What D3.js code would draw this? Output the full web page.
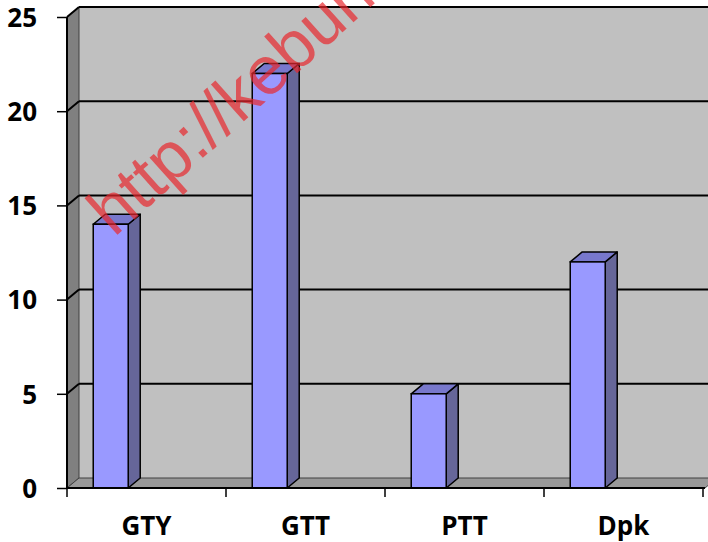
<!DOCTYPE html>
<html>
<head>
<meta charset="utf-8">
<script src="https://cdn.jsdelivr.net/npm/d3@7"></script>
<style>
  body { margin: 0; background: #fff; }
  svg { display: block; }
  .lbl { font-family: "Open Sans", "Liberation Sans", sans-serif; font-weight: bold; font-size: 26px; fill: #000; }
</style>
</head>
<body>
<script>
// data
var categories = ["GTY", "GTT", "PTT", "Dpk"];
var values = [14, 22, 5, 12];
var yTicks = [0, 5, 10, 15, 20, 25];

var W = 708, H = 542;
var dx = 12, dy = -10; // depth offset of the 3d box

var svg = d3.select("body").append("svg")
    .attr("width", W)
    .attr("height", H);

var x = d3.scaleBand().domain(categories).range([67, 703]);
var y = d3.scaleLinear().domain([0, 25]).range([488, 17]);

var x0 = x.range()[0], x1 = x.range()[1] + 2;
var y0 = y(0), yTop = y(25);

// back wall
svg.append("rect")
    .attr("x", x0 + dx).attr("y", yTop + dy)
    .attr("width", x1 - x0 + 20).attr("height", y0 - yTop)
    .attr("fill", "#c0c0c0");

// left side wall
svg.append("polygon")
    .attr("points", [[x0, yTop], [x0 + dx, yTop + dy], [x0 + dx, y0 + dy], [x0, y0]].join(" "))
    .attr("fill", "#808080")
    .attr("stroke", "#404040").attr("stroke-width", 1);

// floor
svg.append("polygon")
    .attr("points", [[x0, y0], [x0 + dx, y0 + dy], [x1 + dx, y0 + dy], [x1, y0]].join(" "))
    .attr("fill", "#999999")
    .attr("stroke", "#404040").attr("stroke-width", 1);

// gridlines (back wall + diagonal on side wall)
var grid = svg.append("g");
yTicks.forEach(function(t) {
    if (t === 0) return;
    grid.append("line")
        .attr("x1", x0 + dx).attr("x2", x1 + dx + 20)
        .attr("y1", y(t) + dy).attr("y2", y(t) + dy)
        .attr("stroke", "#000").attr("stroke-width", 2);
    grid.append("line")
        .attr("x1", x0).attr("x2", x0 + dx)
        .attr("y1", y(t)).attr("y2", y(t) + dy)
        .attr("stroke", "#000").attr("stroke-width", 2);
});

// bars
var bw = x.bandwidth();
var off = bw * 0.165, wid = bw * 0.22;
var bars = svg.append("g").selectAll("g")
    .data(categories.map(function(c, i) { return { c: c, v: values[i] }; }))
    .enter().append("g");

// side face
bars.append("polygon")
    .attr("points", function(d) {
        var r = x(d.c) + off + wid;
        return [[r, y(d.v)], [r + dx, y(d.v) + dy], [r + dx, y0 + dy], [r, y0]].join(" ");
    })
    .attr("fill", "#666699")
    .attr("stroke", "#000").attr("stroke-width", 1.5).attr("stroke-linejoin", "round");

// top face
bars.append("polygon")
    .attr("points", function(d) {
        var l = x(d.c) + off, r = l + wid, t = y(d.v);
        return [[l, t], [l + dx, t + dy], [r + dx, t + dy], [r, t]].join(" ");
    })
    .attr("fill", "#7878cc")
    .attr("stroke", "#000").attr("stroke-width", 1.5).attr("stroke-linejoin", "round");

// front face
bars.append("rect")
    .attr("x", function(d) { return x(d.c) + off; })
    .attr("y", function(d) { return y(d.v); })
    .attr("width", wid)
    .attr("height", function(d) { return y0 - y(d.v); })
    .attr("fill", "#9999ff")
    .attr("stroke", "#000").attr("stroke-width", 1.5);

// y axis
var yAxis = svg.append("g")
    .attr("transform", "translate(" + x0 + ",0)")
    .call(d3.axisLeft(y).tickValues(yTicks).tickSize(10).tickPadding(20));
yAxis.select(".domain").remove();
yAxis.selectAll(".tick line").attr("stroke", "#000").attr("stroke-width", 1.5);
yAxis.selectAll(".tick text").attr("class", "lbl").attr("font-size", null).attr("font-family", null).attr("dy", "0.36em");

svg.append("line")
    .attr("x1", x0).attr("x2", x0).attr("y1", yTop).attr("y2", y0)
    .attr("stroke", "#000").attr("stroke-width", 2);
svg.append("line")
    .attr("x1", x0).attr("x2", x1).attr("y1", y0).attr("y2", y0)
    .attr("stroke", "#000").attr("stroke-width", 2);

// category ticks at band boundaries
var bounds = categories.map(function(c) { return x(c); }).concat([x.range()[1]]);
svg.append("g").selectAll("line")
    .data(bounds).enter().append("line")
    .attr("x1", function(d) { return d; }).attr("x2", function(d) { return d; })
    .attr("y1", y0).attr("y2", y0 + 9)
    .attr("stroke", "#000").attr("stroke-width", 1.5);

svg.append("g").selectAll("text")
    .data(categories).enter().append("text")
    .attr("class", "lbl")
    .attr("x", function(d) { return x(d) + bw / 2; })
    .attr("y", 535)
    .attr("text-anchor", "middle")
    .text(function(d) { return d; });

// watermark
svg.append("text")
    .attr("transform", "translate(114,238) rotate(-42)")
    .attr("font-family", "'Liberation Sans', Arial, sans-serif")
    .attr("font-size", 68)
    .attr("fill", "#e8282d")
    .attr("fill-opacity", 0.7)
    .text("http://kebun");
</script>
</body>
</html>
